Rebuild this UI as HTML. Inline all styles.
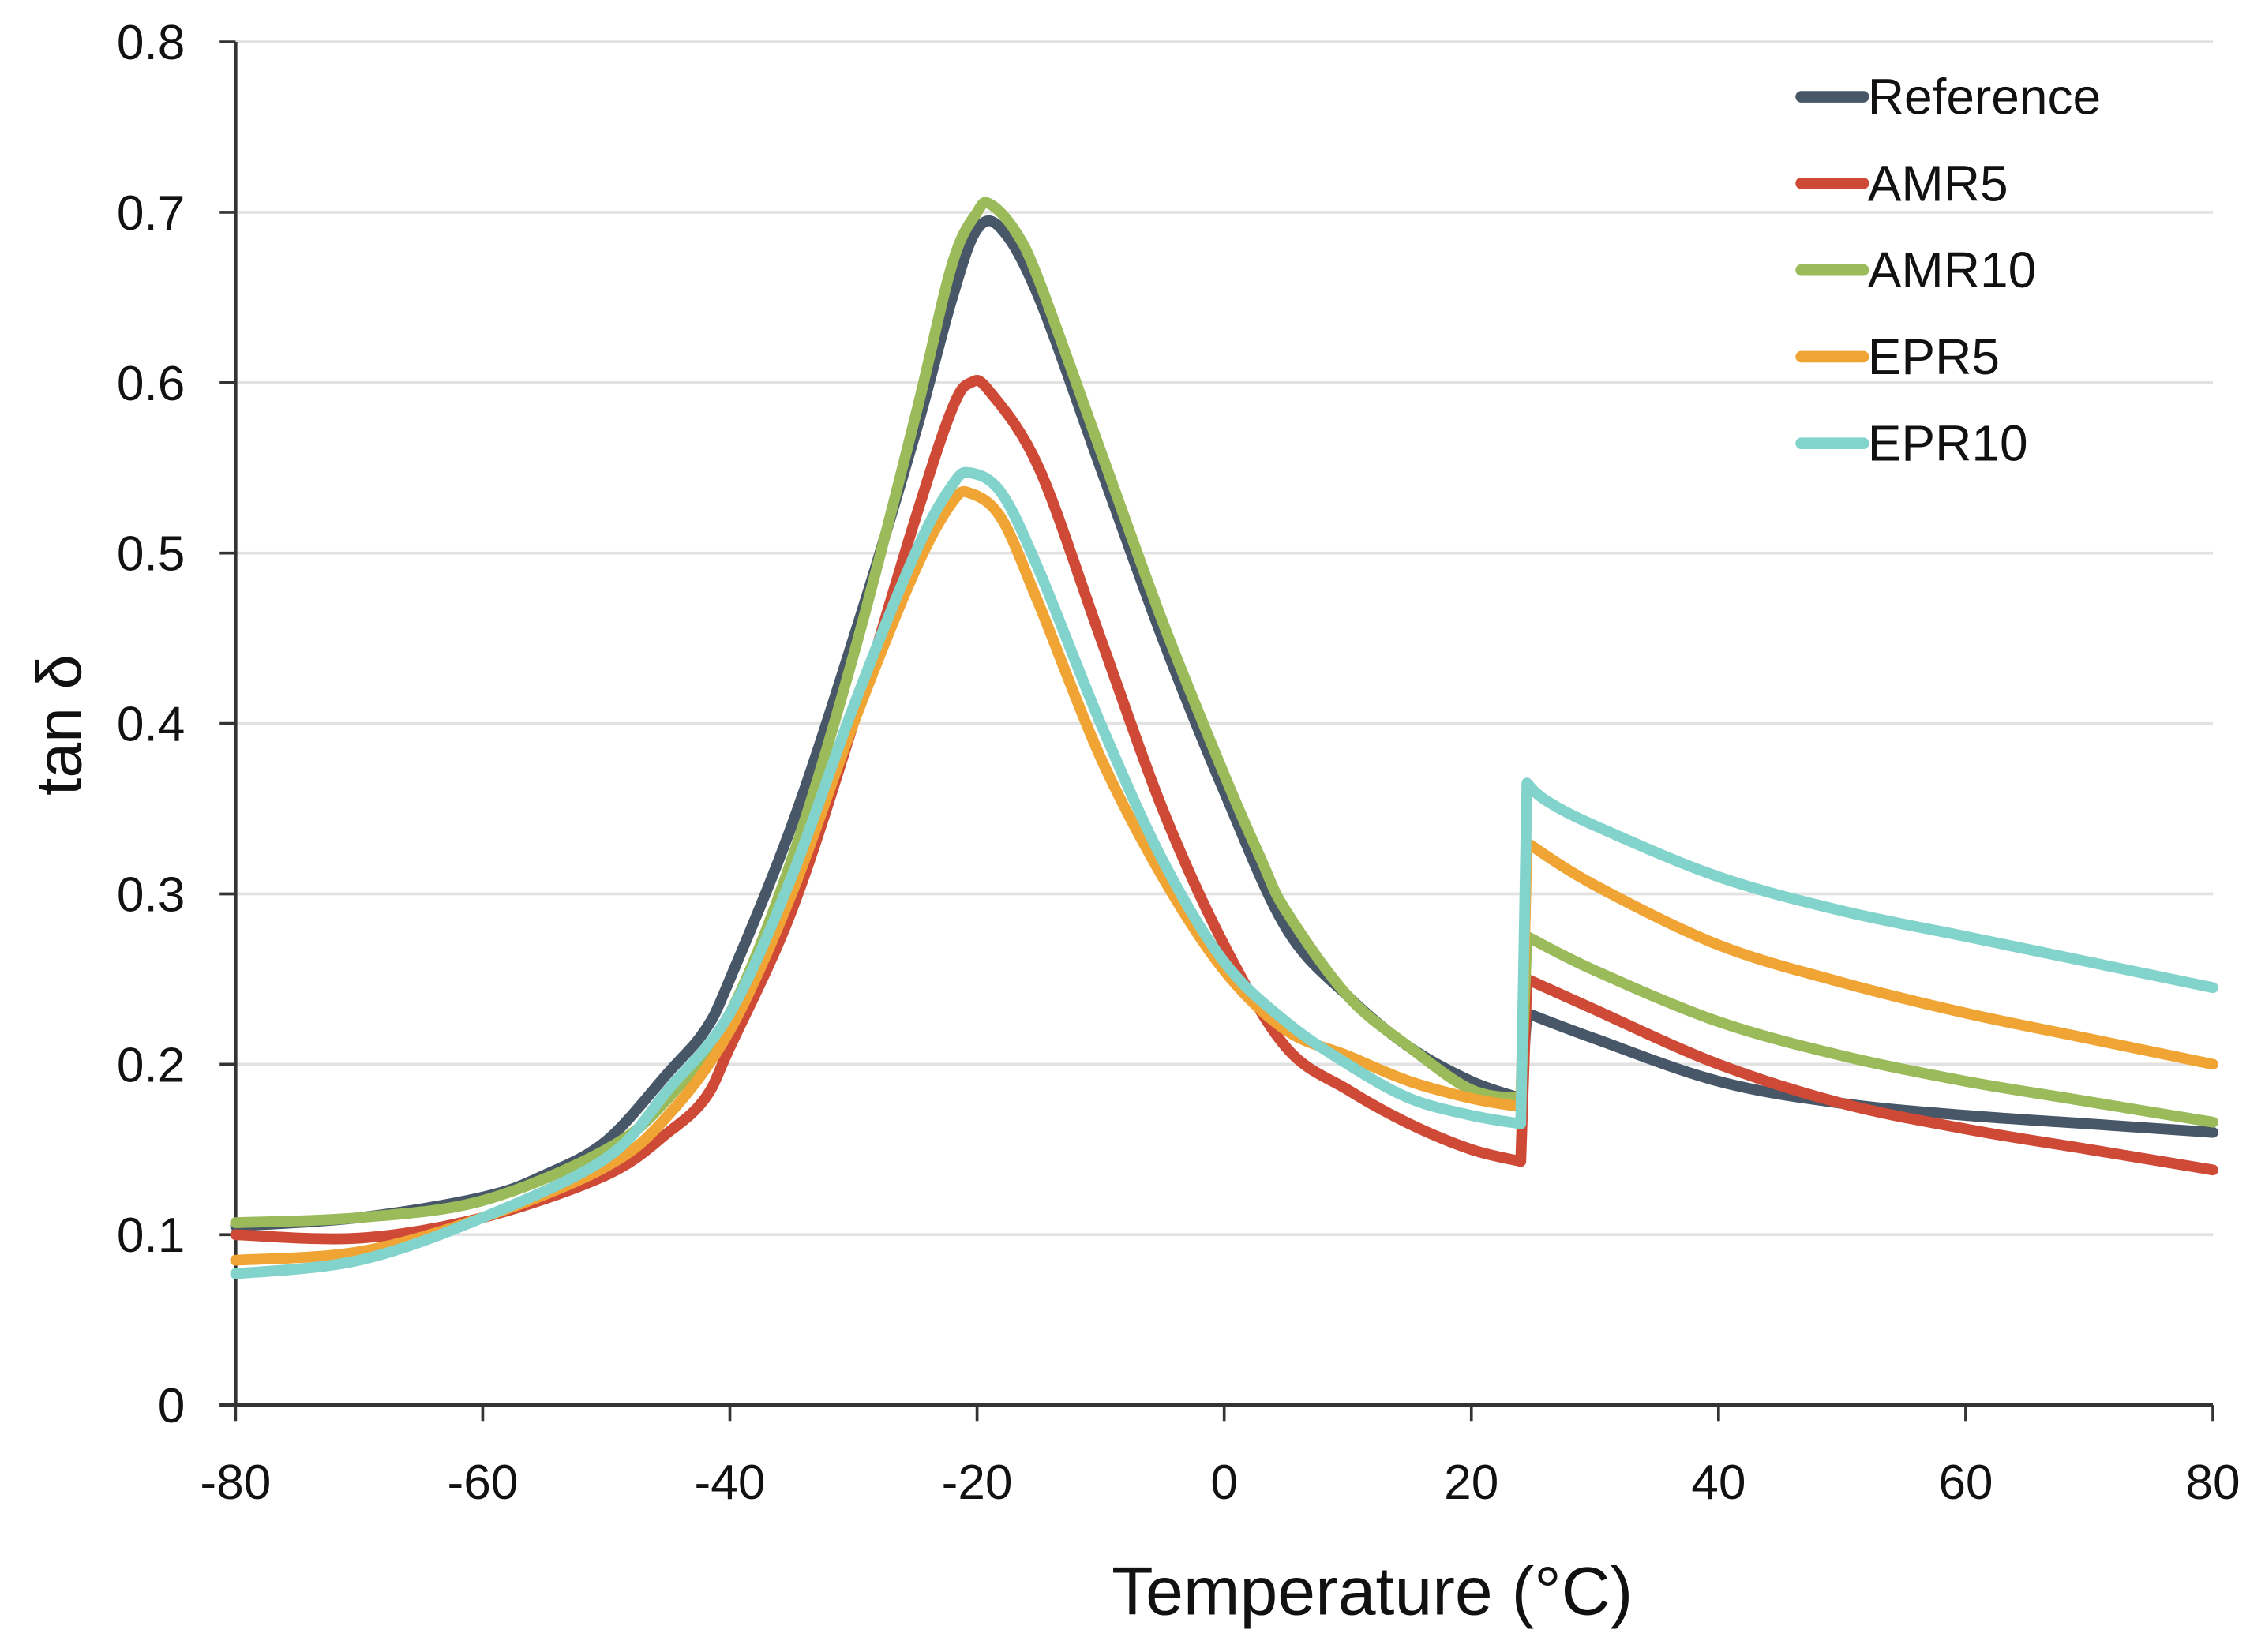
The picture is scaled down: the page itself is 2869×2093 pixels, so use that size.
<!DOCTYPE html>
<html><head><meta charset="utf-8"><style>
html,body{margin:0;padding:0;background:#fff;}
svg{display:block;}
text{font-family:"Liberation Sans",sans-serif;fill:#111;}
</style></head><body>
<svg id="chart" width="2869" height="2093" viewBox="0 0 1568 1144" xmlns="http://www.w3.org/2000/svg">
<g id="grid"></g>
<g id="axes"></g>
<g id="series"></g>
<g id="legend"></g>
<text x="950" y="1118" font-size="47" text-anchor="middle">Temperature (°C)</text>
<text transform="translate(56,502) rotate(-90)" font-size="44" text-anchor="middle">tan δ</text>
</svg>
<script>
const xTicks = [-80,-60,-40,-20,0,20,40,60,80];
const yTicks = [0,0.1,0.2,0.3,0.4,0.5,0.6,0.7,0.8];
const yTickLabels = ["0","0.1","0.2","0.3","0.4","0.5","0.6","0.7","0.8"];
const seriesNames = ["Reference","AMR5","AMR10","EPR5","EPR10"];
const seriesColors = ["#475768","#cf4a36","#9bbb5a","#f0a434","#82d3cb"];
const refX = [-80,-70,-60,-55,-50,-45,-42,-40,-35,-30,-25,-22,-20,-18,-15,-10,-5,0,5,10,15,20,24,24.5,30,40,50,60,70,80];
const refY = [0.105,0.11,0.122,0.135,0.155,0.195,0.22,0.25,0.34,0.45,0.57,0.65,0.69,0.69,0.65,0.55,0.45,0.36,0.28,0.24,0.21,0.19,0.18,0.23,0.215,0.19,0.177,0.17,0.165,0.16];
const amr5X = [-80,-70,-60,-50,-45,-42,-40,-35,-30,-25,-22,-20.5,-19,-15,-10,-5,0,5,10,15,20,24,24.5,30,40,50,60,70,80];
const amr5Y = [0.1,0.098,0.11,0.135,0.16,0.18,0.21,0.29,0.4,0.52,0.585,0.6,0.595,0.55,0.45,0.35,0.27,0.21,0.185,0.165,0.15,0.143,0.25,0.232,0.2,0.177,0.162,0.15,0.138];
const amr10X = [-80,-70,-60,-50,-45,-40,-35,-30,-25,-22,-20,-19,-17,-15,-10,-5,0,3,5,10,15,20,24,24.5,30,40,50,60,70,80];
const amr10Y = [0.107,0.11,0.12,0.15,0.18,0.23,0.32,0.44,0.58,0.67,0.70,0.705,0.69,0.66,0.56,0.46,0.37,0.32,0.29,0.24,0.21,0.185,0.18,0.275,0.255,0.225,0.205,0.19,0.178,0.166];
const epr5X = [-80,-70,-60,-50,-45,-40,-35,-30,-25,-22,-20.5,-18,-15,-10,-5,0,5,10,15,20,24,24.5,30,40,50,60,70,80];
const epr5Y = [0.085,0.09,0.11,0.14,0.17,0.22,0.3,0.4,0.49,0.53,0.535,0.52,0.47,0.38,0.31,0.255,0.22,0.205,0.19,0.18,0.175,0.33,0.305,0.27,0.248,0.23,0.215,0.2];
const epr10X = [-80,-70,-60,-50,-45,-40,-35,-30,-25,-22,-20.5,-18,-15,-10,-5,0,5,10,15,20,24,24.5,26,30,40,50,60,70,80];
const epr10Y = [0.077,0.085,0.11,0.145,0.185,0.23,0.31,0.41,0.5,0.54,0.547,0.535,0.49,0.40,0.32,0.26,0.225,0.2,0.18,0.17,0.165,0.365,0.355,0.34,0.31,0.29,0.275,0.26,0.245];
const seriesX = [refX,amr5X,amr10X,epr5X,epr10X];
const seriesY = [refY,amr5Y,amr10Y,epr5Y,epr10Y];

const NS="http://www.w3.org/2000/svg";
const X0=163,X1=1532,Y0=973,Y1=29;
function sx(v){return X0+(v+80)/160*(X1-X0);}
function sy(v){return Y0-v/0.8*(Y0-Y1);}
function mk(tag,attrs,parent){const e=document.createElementNS(NS,tag);for(const k in attrs)e.setAttribute(k,attrs[k]);parent.appendChild(e);return e;}
function smooth(p){ // catmull-rom -> bezier
  let d='M'+p[0][0].toFixed(1)+','+p[0][1].toFixed(1);
  for(let i=0;i<p.length-1;i++){
    const a=p[Math.max(0,i-1)],b=p[i],c=p[i+1],e=p[Math.min(p.length-1,i+2)];
    const c1=[b[0]+(c[0]-a[0])/6,b[1]+(c[1]-a[1])/6],c2=[c[0]-(e[0]-b[0])/6,c[1]-(e[1]-b[1])/6];
    d+=' C'+c1.map(v=>v.toFixed(1)).join(',')+' '+c2.map(v=>v.toFixed(1)).join(',')+' '+c[0].toFixed(1)+','+c[1].toFixed(1);
  }
  return d;
}
const grid=document.getElementById('grid'),axes=document.getElementById('axes'),ser=document.getElementById('series'),leg=document.getElementById('legend');
yTicks.forEach((v,i)=>{
  if(v>0){const g=mk('line',{x1:X0,x2:X1,y1:sy(v),y2:sy(v),stroke:'#e2e2e2','stroke-width':2},grid);
  
  }
  const t=mk('line',{x1:X0-11,x2:X0,y1:sy(v),y2:sy(v),stroke:'#333','stroke-width':2},axes);
  
  
  const l=mk('text',{x:128,y:sy(v)+12,'font-size':34,'text-anchor':'end'},axes);
  l.textContent=yTickLabels[i];
  
  
});
xTicks.forEach(v=>{
  const t=mk('line',{x1:sx(v),x2:sx(v),y1:Y0,y2:Y0+11,stroke:'#333','stroke-width':2},axes);
  
  
  const l=mk('text',{x:sx(v),y:1038,'font-size':34,'text-anchor':'middle'},axes);
  l.textContent=String(v);
  
  
});
const ya=mk('line',{x1:X0,x2:X0,y1:Y1,y2:Y0,stroke:'#333','stroke-width':2.5},axes);


const xa=mk('line',{x1:X0-11,x2:X1,y1:Y0,y2:Y0,stroke:'#333','stroke-width':2.5},axes);


seriesNames.forEach((n,i)=>{
  const pts=seriesX[i].map((x,j)=>[sx(x),sy(seriesY[i][j])]);
  let k=seriesX[i].findIndex((x,j)=>j>0&&x-seriesX[i][j-1]<1);
  const a=pts.slice(0,k),b=pts.slice(k);
  const d=smooth(a)+' L'+b[0][0].toFixed(1)+','+b[0][1].toFixed(1)+' '+smooth(b).replace(/^M/,'L');
  const p=mk('path',{d:d,fill:'none',stroke:seriesColors[i],'stroke-width':7.5,'stroke-linejoin':'round','stroke-linecap':'round'},ser);
  
  
  const y=67+i*60;
  const ll=mk('line',{x1:1247,x2:1290,y1:y,y2:y,stroke:seriesColors[i],'stroke-width':8,'stroke-linecap':'round'},leg);
  
  
  const lt=mk('text',{x:1293,y:y+12,'font-size':35},leg);
  lt.textContent=n;
  
  
});
</script>
</body></html>
